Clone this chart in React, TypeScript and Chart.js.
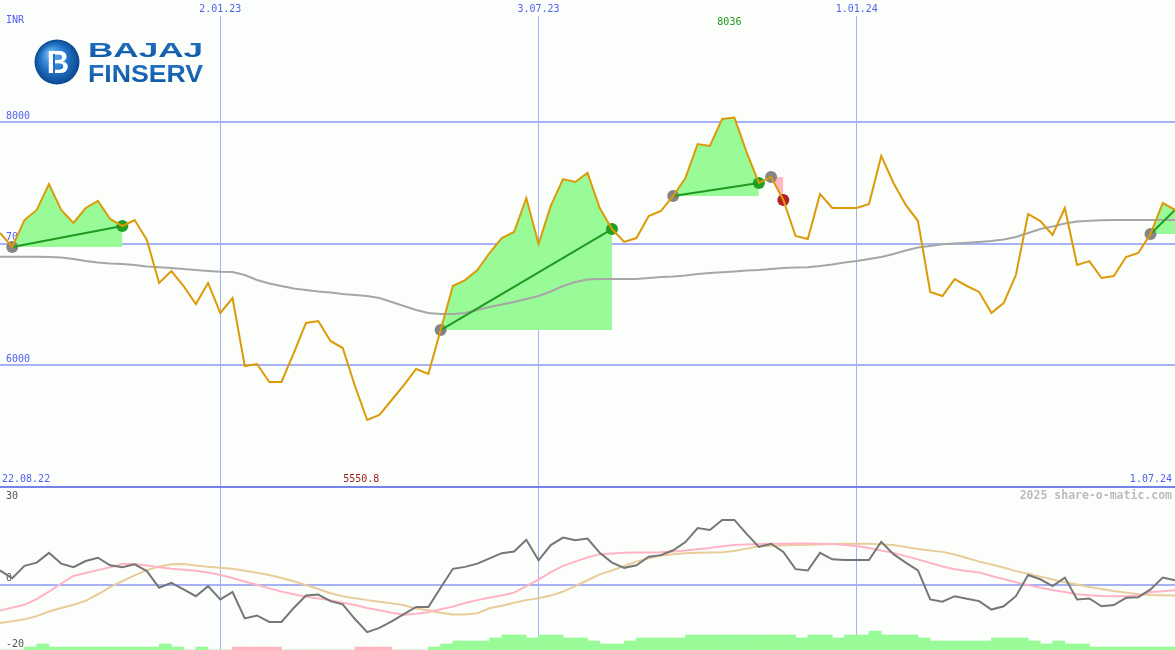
import React, { useEffect, useRef } from 'react';
import { Chart, registerables } from 'chart.js';

Chart.register(...registerables);

// ---------- data ----------
const unitLabel = 'INR';
const startLabel = '22.08.22';
const endLabel = '1.07.24';
const watermark = '2025 share-o-matic.com';
const tickIndex = [18, 44, 70];
const tickLabels = ['2.01.23', '3.07.23', '1.01.24'];

// weekly closing prices (INR)
const price = [
  7088, 6973, 7194, 7277, 7490, 7277, 7170, 7293, 7351, 7203,
  7145, 7194, 7030, 6677, 6775, 6652, 6504, 6677, 6430, 6553,
  5994, 6011, 5863, 5863, 6101, 6348, 6364, 6200, 6142, 5830,
  5550.8, 5592, 5715, 5838, 5970, 5929, 6290, 6652, 6701, 6783,
  6923, 7046, 7096, 7375, 6997, 7310, 7531, 7507, 7581, 7293,
  7120, 7014, 7046, 7227, 7268, 7392, 7540, 7819, 7803, 8025,
  8036, 7753, 7499, 7548, 7359, 7063, 7038, 7408, 7293, 7293,
  7293, 7326, 7721, 7499, 7318, 7186, 6603, 6570, 6709, 6652,
  6603, 6430, 6512, 6742, 7244, 7186, 7071, 7293, 6825, 6857,
  6718, 6734, 6890, 6923, 7079, 7334, 7277,
];

// long moving average (grey)
const longAvg = [
  6893, 6893, 6893, 6893, 6890, 6886, 6874, 6857, 6845, 6837,
  6833, 6825, 6812, 6806, 6800, 6792, 6783, 6775, 6769, 6767,
  6742, 6701, 6672, 6652, 6631, 6619, 6607, 6598, 6586, 6578,
  6570, 6553, 6520, 6488, 6455, 6430, 6422, 6422, 6430, 6455,
  6479, 6500, 6520, 6545, 6570, 6607, 6652, 6685, 6705, 6709,
  6709, 6709, 6709, 6718, 6726, 6730, 6738, 6751, 6759, 6765,
  6771, 6779, 6783, 6792, 6800, 6804, 6806, 6816, 6829, 6845,
  6857, 6874, 6890, 6915, 6944, 6968, 6981, 6995, 7001, 7008,
  7014, 7022, 7034, 7055, 7088, 7120, 7141, 7166, 7182, 7189,
  7193, 7194, 7194, 7194, 7194, 7194, 7194,
];

// oscillator (dark grey)
const osc = [
  4.4, 2.0, 5.8, 6.8, 9.8, 6.5, 5.4, 7.3, 8.3, 6.0,
  5.4, 6.3, 4.2, -0.9, 0.6, -1.4, -3.5, -0.4, -4.5, -2.2,
  -10.3, -9.4, -11.4, -11.4, -7.1, -3.3, -3.0, -5.0, -6.0, -10.5,
  -14.5, -13.2, -11.2, -9.0, -6.8, -6.8, -0.9, 4.9, 5.5, 6.5,
  8.1, 9.7, 10.2, 13.8, 7.5, 12.2, 14.5, 13.7, 14.2, 9.8,
  6.8, 5.2, 6.0, 8.6, 9.1, 10.6, 13.1, 17.4, 16.8, 19.9,
  19.9, 15.6, 11.6, 12.6, 10.1, 4.8, 4.4, 9.8, 7.8, 7.6,
  7.6, 7.6, 13.2, 9.4, 6.8, 4.4, -4.5, -5.2, -3.5, -4.3,
  -5.0, -7.6, -6.6, -3.5, 3.0, 1.7, -0.4, 2.2, -4.5, -4.2,
  -6.6, -6.2, -4.0, -3.8, -1.4, 2.2, 1.4,
];

// fast signal (pink)
const oscFast = [
  -7.9, -7.0, -6.1, -4.4, -2.1, 0.4, 2.7, 3.6, 4.5, 5.4,
  6.4, 6.4, 5.9, 5.4, 4.9, 4.6, 4.3, 3.8, 3.0, 2.1,
  1.0, 0.0, -1.1, -2.1, -2.9, -3.7, -4.2, -4.7, -5.5, -6.2,
  -7.1, -7.8, -8.6, -9.2, -8.9, -8.4, -7.5, -6.7, -5.6, -4.7,
  -3.9, -3.3, -2.4, -0.4, 1.6, 3.9, 5.8, 7.1, 8.4, 9.4,
  9.6, 9.8, 9.9, 9.9, 10.0, 10.2, 10.5, 10.9, 11.3, 11.8,
  12.2, 12.4, 12.5, 12.6, 12.6, 12.7, 12.7, 12.6, 12.5, 12.2,
  11.9, 11.3, 10.5, 9.8, 8.8, 7.8, 6.7, 5.6, 4.8, 4.2,
  3.8, 2.7, 1.8, 0.8, -0.1, -0.9, -1.6, -2.2, -2.9, -3.2,
  -3.4, -3.5, -3.5, -3.3, -2.2, -2.0, -1.7,
];

// slow signal (tan)
const oscSlow = [
  -11.7, -11.2, -10.6, -9.6, -8.2, -7.1, -6.1, -4.9, -2.9, -0.7,
  1.1, 2.9, 4.5, 5.6, 6.3, 6.4, 5.9, 5.5, 5.2, 4.9,
  4.3, 3.7, 3.0, 2.1, 1.1, -0.1, -1.3, -2.6, -3.5, -4.1,
  -4.7, -5.2, -5.7, -6.3, -7.3, -7.8, -8.6, -9.1, -9.1, -8.7,
  -7.2, -6.4, -5.5, -4.7, -4.1, -3.3, -2.1, -0.4, 1.4, 3.2,
  4.4, 5.8, 7.1, 8.1, 9.0, 9.4, 9.7, 9.8, 9.9, 10.0,
  10.4, 11.1, 11.8, 12.0, 12.1, 12.2, 12.3, 12.4, 12.5, 12.6,
  12.6, 12.6, 12.4, 12.2, 11.6, 11.0, 10.5, 10.1, 9.3, 8.2,
  7.1, 6.2, 5.3, 4.2, 3.4, 2.5, 1.6, 0.8, 0.1, -0.7,
  -1.3, -1.9, -2.4, -2.9, -3.1, -3.2, -3.3,
];

// trend strength histogram per week interval (positive = green, negative = pink)
const histogram = [
  0, 0, 1, 2, 1, 1, 1, 1, 1, 1,
  1, 1, 1, 2, 1, 0, 1, 0, 0, -1,
  -1, -1, -1, 0, 0, 0, 0, 0, 0, -1,
  -1, -1, 0, 0, 0, 1, 2, 3, 3, 3,
  4, 5, 5, 4, 5, 5, 4, 4, 3, 2,
  2, 3, 4, 4, 4, 4, 5, 5, 5, 5,
  5, 5, 5, 5, 5, 4, 5, 5, 4, 5,
  5, 6.3, 5, 5, 5, 4, 3, 3, 3, 3,
  3, 4, 4, 4, 3, 2, 3, 2, 2, 1,
  1, 1, 1, 1, 1, 1,
];

// trades (indices into price)
const tradeEntry = [1, 36, 55, 63, 94];
const tradeExit = [10, 50, 62, 64, 96];
const tradeWin = [true, true, true, false, true];
const tradeOpen = [false, false, false, false, true];

// ---------- styles ----------
const BLUE_TEXT = '#5060f0';
const GRID = '#a6b2f4';
const GRID_DARK = '#7383ea';
const ORANGE = '#dd9a08';
const GREY_AVG = '#a6a6a6';
const OSC = '#767676';
const PINK_LINE = '#ffb3c6';
const TAN_LINE = '#e8cc9a';
const GREEN_FILL = '#98fb98';
const PINK_FILL = '#ffb6c1';
const GREEN_DOT = '#22a022';
const RED_DOT = '#b22222';
const GREY_DOT = '#858585';
const MONO = '"DejaVu Sans Mono", monospace';

const pts = (arr: number[]) => arr.map((v, i) => ({ x: i, y: v }));

const noPad = (s: any) => {
  s.paddingTop = 0;
  s.paddingBottom = 0;
  s.paddingLeft = 0;
  s.paddingRight = 0;
};

function drawLogo(ctx: CanvasRenderingContext2D) {
  const cx = 57, cy = 62, r = 22.5;
  const g = ctx.createRadialGradient(cx - 7, cy - 9, 2, cx, cy, r);
  g.addColorStop(0, '#6cb4f0');
  g.addColorStop(0.55, '#2275c8');
  g.addColorStop(1, '#0c4890');
  ctx.fillStyle = g;
  ctx.beginPath();
  ctx.arc(cx, cy, r, 0, Math.PI * 2);
  ctx.fill();
  ctx.fillStyle = '#ffffff';
  ctx.font = 'bold 31px "Liberation Sans", sans-serif';
  ctx.textAlign = 'center';
  ctx.textBaseline = 'alphabetic';
  ctx.fillText('B', cx + 1, cy + 11);
  ctx.fillStyle = '#2470c2';
  ctx.fillRect(cx - 4, cy - 8, 2, 19);

  const word = (t: string, x0: number, x1: number, base: number, size: number) => {
    ctx.save();
    ctx.font = `bold ${size}px "Liberation Sans", sans-serif`;
    ctx.textAlign = 'left';
    const w = ctx.measureText(t).width;
    ctx.translate(x0, base);
    ctx.scale((x1 - x0) / w, 1);
    const lg = ctx.createLinearGradient(0, -size, 0, 0);
    lg.addColorStop(0, '#2a78c8');
    lg.addColorStop(1, '#0f5aa8');
    ctx.fillStyle = lg;
    ctx.fillText(t, 0, 0);
    ctx.restore();
  };
  word('BAJAJ', 88, 203, 57, 21);
  word('FINSERV', 88, 203, 82, 24);
}

const bgPlugin = {
  id: 'bg',
  beforeDraw(chart: any) {
    const { ctx, width, height } = chart;
    ctx.save();
    ctx.fillStyle = '#fcfefc';
    ctx.fillRect(0, 0, width, height);
    ctx.restore();
  },
};

const annotPlugin = {
  id: 'annot',
  afterDraw(chart: any) {
    const { ctx, chartArea } = chart;
    const xs = chart.scales.x;
    const ym = chart.scales.y;
    const yl = chart.scales.yLow;
    ctx.save();
    ctx.font = `10px ${MONO}`;
    ctx.textBaseline = 'middle';
    ctx.fillStyle = BLUE_TEXT;
    ctx.textAlign = 'left';
    ctx.fillText(unitLabel, 6, 20);
    ctx.fillText(startLabel, 2, ym.bottom - 8);
    ctx.textAlign = 'right';
    ctx.fillText(endLabel, chartArea.right - 3, ym.bottom - 8);

    const maxV = Math.max(...price);
    const minV = Math.min(...price);
    const maxI = price.indexOf(maxV);
    const minI = price.indexOf(minV);
    ctx.textAlign = 'center';
    ctx.fillStyle = '#1f9a1f';
    ctx.fillText(String(maxV), xs.getPixelForValue(maxI) - 5, 22);
    ctx.fillStyle = '#a01e1e';
    ctx.fillText(String(minV), xs.getPixelForValue(minI) - 6, ym.bottom - 8);

    ctx.textAlign = 'left';
    ctx.fillStyle = '#555555';
    ctx.fillText('30', 6, yl.top + 9);

    ctx.font = `bold 11.5px ${MONO}`;
    ctx.fillStyle = '#bcbcbc';
    ctx.textAlign = 'right';
    ctx.fillText(watermark, chartArea.right - 3, yl.top + 9);

    drawLogo(ctx);
    ctx.restore();
  },
};

export default function App() {
  const ref = useRef<HTMLCanvasElement | null>(null);

  useEffect(() => {
    document.body.style.margin = '0';
    const canvas = ref.current;
    if (!canvas) return;

    const fills: any[] = [];
    const links: any[] = [];
    const markerPts: any[] = [];
    const markerColors: string[] = [];
    tradeEntry.forEach((e, t) => {
      const x2 = tradeExit[t];
      const seg = [];
      for (let i = e; i <= x2; i++) seg.push({ x: i, y: price[i] });
      fills.push({
        type: 'line',
        data: seg,
        yAxisID: 'y',
        borderColor: 'transparent',
        borderWidth: 0,
        pointRadius: 0,
        backgroundColor: tradeWin[t] ? GREEN_FILL : PINK_FILL,
        fill: { value: price[e] },
        order: 6,
      });
      if (tradeWin[t]) {
        links.push({
          type: 'line',
          data: [{ x: e, y: price[e] }, { x: x2, y: price[x2] }],
          yAxisID: 'y',
          borderColor: '#1f9a1f',
          borderWidth: 2,
          pointRadius: 0,
          fill: false,
          order: 1,
        });
      }
      markerPts.push({ x: e, y: price[e] });
      markerColors.push(GREY_DOT);
      if (!tradeOpen[t]) {
        markerPts.push({ x: x2, y: price[x2] });
        markerColors.push(tradeWin[t] ? GREEN_DOT : RED_DOT);
      }
    });

    const chart = new Chart(canvas, {
      type: 'line',
      data: {
        datasets: [
          {
            type: 'line',
            label: 'price',
            data: pts(price),
            yAxisID: 'y',
            borderColor: ORANGE,
            borderWidth: 2,
            pointRadius: 0,
            fill: false,
            order: 0,
          },
          ...links,
          {
            type: 'line',
            label: 'trades',
            data: markerPts,
            yAxisID: 'y',
            showLine: false,
            pointRadius: 6,
            pointBorderWidth: 0,
            pointBorderColor: 'transparent',
            pointBackgroundColor: markerColors,
            order: 2,
          },
          {
            type: 'line',
            label: 'avg',
            data: pts(longAvg),
            yAxisID: 'y',
            borderColor: GREY_AVG,
            borderWidth: 2,
            pointRadius: 0,
            fill: false,
            order: 3,
          },
          {
            type: 'line',
            label: 'osc',
            data: pts(osc),
            yAxisID: 'yLow',
            borderColor: OSC,
            borderWidth: 2,
            pointRadius: 0,
            fill: false,
            order: 3,
          },
          {
            type: 'line',
            label: 'fast',
            data: pts(oscFast),
            yAxisID: 'yLow',
            borderColor: PINK_LINE,
            borderWidth: 2,
            pointRadius: 0,
            fill: false,
            order: 4,
          },
          {
            type: 'line',
            label: 'slow',
            data: pts(oscSlow),
            yAxisID: 'yLow',
            borderColor: TAN_LINE,
            borderWidth: 2,
            pointRadius: 0,
            fill: false,
            order: 5,
          },
          ...fills,
          {
            type: 'bar',
            label: 'hist',
            data: histogram.map((v, i) => ({ x: i + 0.5, y: Math.abs(v) })),
            yAxisID: 'yh',
            backgroundColor: histogram.map((v) => (v < 0 ? PINK_FILL : GREEN_FILL)),
            borderWidth: 0,
            barPercentage: 1,
            categoryPercentage: 1,
            order: 7,
          },
        ] as any,
      },
      options: {
        responsive: false,
        maintainAspectRatio: false,
        animation: false,
        devicePixelRatio: 1,
        events: [],
        layout: { padding: 0, autoPadding: false },
        plugins: { legend: { display: false }, tooltip: { enabled: false } },
        scales: {
          x: {
            type: 'linear',
            position: 'top',
            min: 0,
            max: price.length - 1,
            bounds: 'data',
            offset: false,
            afterBuildTicks: (s: any) => {
              s.ticks = tickIndex.map((v) => ({ value: v }));
            },
            afterFit: (s: any) => {
              s.height = 16;
              noPad(s);
            },
            ticks: {
              autoSkip: false,
              maxRotation: 0,
              padding: 1,
              color: BLUE_TEXT,
              font: { family: MONO, size: 10 },
              callback: (v: any) => {
                const k = tickIndex.indexOf(Number(v));
                return k >= 0 ? tickLabels[k] : '';
              },
            },
            grid: { color: GRID, lineWidth: 1, drawTicks: false, offset: false },
            border: { display: false },
          },
          y: {
            type: 'linear',
            position: 'left',
            stack: 'panels',
            stackWeight: 471,
            weight: 2,
            min: 5000,
            max: 8871,
            bounds: 'data',
            afterBuildTicks: (s: any) => {
              s.ticks = [5000, 6000, 7000, 8000].map((v) => ({ value: v }));
            },
            afterFit: (s: any) => {
              s.width = 0;
              noPad(s);
            },
            ticks: {
              mirror: true,
              padding: 6,
              labelOffset: -6,
              color: BLUE_TEXT,
              font: { family: MONO, size: 10 },
              callback: (v: any) => (Number(v) === 5000 ? '' : String(v)),
            },
            grid: {
              color: (c: any) => (c.tick && c.tick.value === 5000 ? GRID_DARK : GRID),
              lineWidth: 2,
              drawTicks: false,
            },
            border: { display: false },
          },
          yLow: {
            type: 'linear',
            position: 'left',
            stack: 'panels',
            stackWeight: 163,
            weight: 1,
            min: -20,
            max: 30,
            bounds: 'data',
            afterBuildTicks: (s: any) => {
              s.ticks = [-20, 0, 30].map((v) => ({ value: v }));
            },
            afterFit: (s: any) => {
              s.width = 0;
              noPad(s);
            },
            ticks: {
              mirror: true,
              padding: 6,
              labelOffset: -6,
              color: '#555555',
              font: { family: MONO, size: 10 },
              callback: (v: any) => (Number(v) === 30 ? '' : String(v)),
            },
            grid: {
              color: (c: any) => (c.tick && c.tick.value === 0 ? GRID : 'transparent'),
              lineWidth: 2,
              drawTicks: false,
            },
            border: { display: false },
          },
          yh: {
            type: 'linear',
            display: false,
            min: 0,
            max: 634 / 3,
            afterFit: noPad,
          },
        },
      } as any,
      plugins: [bgPlugin, annotPlugin],
    });

    return () => chart.destroy();
  }, []);

  return (
    <div style={{ width: 1175, height: 650 }}>
      <canvas ref={ref} width={1175} height={650} style={{ display: 'block' }} />
    </div>
  );
}
